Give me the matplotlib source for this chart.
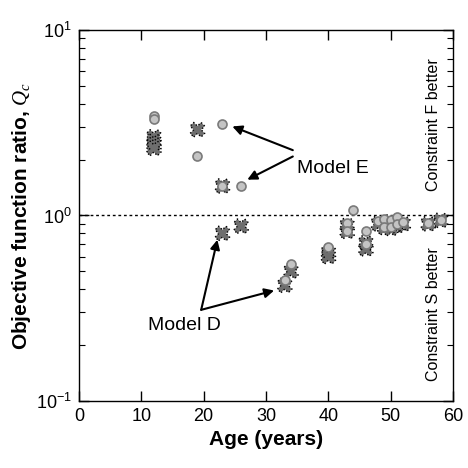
import matplotlib
matplotlib.use("Agg")
import matplotlib.pyplot as plt
from matplotlib.ticker import LogLocator, NullFormatter

plt.rcParams['font.family'] = ['Liberation Sans', 'DejaVu Sans']
plt.rcParams['mathtext.fontset'] = 'custom'
plt.rcParams['mathtext.rm'] = 'Liberation Sans'
plt.rcParams['mathtext.it'] = 'Liberation Serif:italic'
plt.rcParams['mathtext.bf'] = 'Liberation Sans:bold'

# Model D style (X markers)
ages_x = [12, 12, 12, 12, 19, 23, 23, 26, 33, 34, 40, 40, 43, 43, 46, 46, 48, 49, 50, 50, 51, 52, 56, 58]
q_x = [2.65, 2.5, 2.4, 2.3, 2.9, 1.44, 0.80, 0.875, 0.42, 0.50, 0.63, 0.60, 0.88, 0.82, 0.71, 0.66,
       0.90, 0.86, 0.92, 0.85, 0.88, 0.90, 0.90, 0.94]
# circles
ages_o = [12, 12, 19, 23, 23, 26, 33, 34, 40, 43, 43, 44, 46, 46, 48, 49, 49, 50, 50, 51, 51, 52, 56, 58]
q_o = [3.45, 3.3, 2.1, 3.1, 1.44, 1.45, 0.45, 0.545, 0.68, 0.91, 0.83, 1.07, 0.82, 0.70,
       0.93, 0.96, 0.87, 0.95, 0.87, 0.98, 0.90, 0.92, 0.91, 0.94]

xticks = [0, 10, 20, 30, 40, 50, 60]
yticks = [0.1, 1, 10]
ytick_labels = [r'$\mathregular{10^{-1}}$', r'$\mathregular{10^{0}}$', r'$\mathregular{10^{1}}$']

fig = plt.figure(figsize=(4.68, 4.68), dpi=100)
ax = fig.add_axes([0.1688, 0.1432, 0.968 - 0.1688, 0.9359 - 0.1432])

ax.set_yscale('log')
ax.set_xlim(0, 60)
ax.set_ylim(0.1, 10)

ax.axhline(1.0, color='black', linestyle=(0, (2, 2)), linewidth=1.0, zorder=1)

ax.scatter(ages_x, q_x, marker='X', s=110, facecolor='#6e6e6e', edgecolor='black',
           linewidths=1.0, linestyle=':', zorder=3)
ax.scatter(ages_o, q_o, marker='o', s=42, facecolor='#c4c4c4', edgecolor='#7a7a7a',
           linewidths=1.2, zorder=4)

ax.set_xticks(xticks)
ax.set_yticks(yticks)
ax.set_yticklabels(ytick_labels)
ax.yaxis.set_minor_locator(LogLocator(base=10, subs=range(2, 10)))
ax.yaxis.set_minor_formatter(NullFormatter())

ax.tick_params(axis='both', which='major', direction='in', length=7, width=1,
               labelsize=13, top=True, right=True, pad=5)
ax.tick_params(axis='y', which='minor', direction='in', length=4, width=0.8, right=True)
ax.tick_params(axis='x', which='minor', bottom=False, top=False)

for sp in ax.spines.values():
    sp.set_linewidth(1.0)

ax.set_xlabel('Age (years)', fontsize=15, fontweight='bold', labelpad=4)
ax.set_ylabel(r'Objective function ratio, $Q_c$', fontsize=15, fontweight='bold', labelpad=2)

# right side labels
ax.text(0.947, 0.745, 'Constraint F better', transform=ax.transAxes, rotation=90,
        ha='center', va='center', fontsize=11.5)
ax.text(0.947, 0.235, 'Constraint S better', transform=ax.transAxes, rotation=90,
        ha='center', va='center', fontsize=11.5)

# annotations
arrow = dict(arrowstyle='-|>', color='black', lw=1.5, mutation_scale=14, shrinkA=0, shrinkB=0)
ax.text(34.9, 1.8, 'Model E', fontsize=14, ha='left', va='center')
ax.annotate('', xy=(24.6, 3.02), xytext=(34.3, 2.25), arrowprops=arrow)
ax.annotate('', xy=(27.0, 1.56), xytext=(34.3, 2.08), arrowprops=arrow)
ax.text(11.0, 0.254, 'Model D', fontsize=14, ha='left', va='center')
ax.annotate('', xy=(22.2, 0.74), xytext=(19.6, 0.31), arrowprops=arrow)
ax.annotate('', xy=(31.3, 0.394), xytext=(19.6, 0.31), arrowprops=arrow)

fig.savefig('out.png', dpi=100)
